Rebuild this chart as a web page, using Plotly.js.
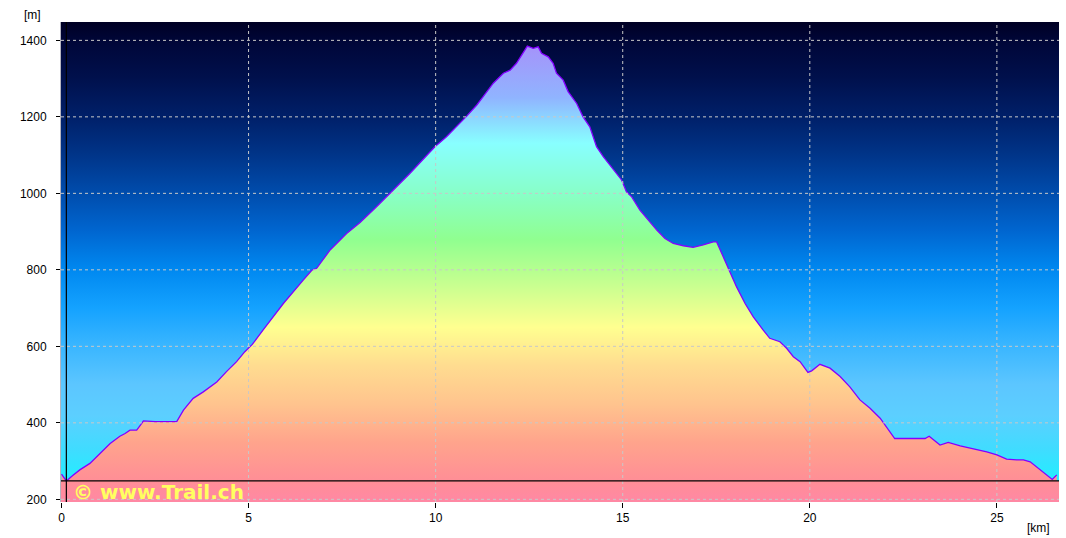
<!DOCTYPE html>
<html>
<head>
<meta charset="utf-8">
<script src="https://cdn.plot.ly/plotly-3.0.1.min.js"></script>
<style>html,body{margin:0;padding:0;background:#fff;}#chart{width:1066px;height:538px;}</style>
</head>
<body>
<div id="chart"></div>
<script>
// Distance along the trail [km]
const distanceKm = [0.00,0.13,0.30,0.49,0.76,1.03,1.30,1.56,1.70,1.83,2.01,2.12,2.19,2.50,3.08,3.26,3.52,3.79,4.15,4.41,4.68,4.90,5.10,5.39,5.93,6.46,6.69,6.82,7.18,7.62,7.98,8.42,8.78,9.31,9.98,10.29,10.83,11.10,11.27,11.54,11.81,11.99,12.16,12.34,12.45,12.61,12.74,12.83,13.01,13.14,13.23,13.41,13.54,13.77,13.94,14.12,14.30,14.48,14.66,14.97,15.10,15.24,15.46,15.68,15.91,16.13,16.35,16.62,16.88,17.15,17.42,17.51,17.69,17.86,18.04,18.27,18.49,18.75,18.93,19.20,19.38,19.56,19.74,19.95,20.05,20.27,20.54,20.81,21.07,21.34,21.61,21.88,22.00,22.27,23.08,23.19,23.48,23.70,24.02,24.37,24.73,25.00,25.26,25.53,25.71,25.89,26.16,26.48,26.60];
// Elevation [m]
const elevationM = [266,248,262,277,294,320,346,365,372,381,381,395,405,403,403,433,464,481,507,534,560,586,605,643,712,773,799,804,852,895,924,965,1000,1052,1122,1148,1202,1231,1253,1288,1314,1322,1340,1366,1385,1379,1383,1366,1357,1340,1314,1296,1266,1235,1200,1174,1122,1096,1074,1035,1004,991,956,930,904,882,869,863,859,865,873,873,834,795,756,712,677,643,621,612,595,573,560,532,536,553,543,521,494,460,438,412,395,359,359,365,342,349,340,333,324,316,305,303,303,298,277,252,264];

const xTicks = [0,5,10,15,20,25];
const yTicks = [200,400,600,800,1000,1200,1400];
const xRange = [-0.013, 26.66];
const yRange = [193, 1448];
const baseLineM = 248;      // black reference line
const startMarkerKm = 0.13; // black vertical marker
const watermark = "© www.Trail.ch";

const skyScale = [
  [0.000,'#18f4ff'],[0.045,'#22eeff'],[0.110,'#40dcff'],[0.180,'#5ccfff'],
  [0.245,'#5cc6ff'],[0.325,'#3ab6ff'],[0.405,'#14a2ff'],[0.485,'#0088f0'],
  [0.565,'#0066d0'],[0.645,'#004cac'],[0.725,'#003488'],[0.805,'#001f68'],
  [0.885,'#00104c'],[0.960,'#000638'],[1.000,'#000024']
];
const terrainScale = [
  [0.000,'#ff88a4'],[0.045,'#ff8e96'],[0.125,'#ffa48c'],[0.205,'#ffc48e'],
  [0.284,'#ffdc90'],[0.364,'#ffff90'],[0.452,'#c8ff90'],[0.547,'#90ff90'],
  [0.643,'#88ffc8'],[0.747,'#88ffff'],[0.842,'#90b4ff'],[0.946,'#a494fa'],[1.000,'#b080f0']
];

const traces = [
  { // sky background filling the plot area
    x:[xRange[0],xRange[1],xRange[1],xRange[0],xRange[0]],
    y:[yRange[0],yRange[0],yRange[1],yRange[1],yRange[0]],
    type:'scatter', mode:'lines', fill:'toself', line:{width:0}, hoverinfo:'skip',
    fillgradient:{type:'vertical', colorscale:skyScale, start:yRange[0], stop:yRange[1]},
    showlegend:false
  },
  { // ground band below the reference line, full width
    x:[xRange[0],xRange[1],xRange[1],xRange[0],xRange[0]],
    y:[yRange[0],yRange[0],baseLineM,baseLineM,yRange[0]],
    type:'scatter', mode:'lines', fill:'toself', line:{width:0}, hoverinfo:'skip',
    fillgradient:{type:'vertical', colorscale:terrainScale, start:yRange[0], stop:yRange[1]},
    showlegend:false
  },
  { // elevation profile
    x:distanceKm, y:elevationM, type:'scatter', mode:'lines', fill:'tozeroy',
    line:{color:'#8400ff', width:1.3},
    fillgradient:{type:'vertical', colorscale:terrainScale, start:yRange[0], stop:yRange[1]},
    showlegend:false
  }
];

const shapes = [];
xTicks.filter(v=>v>0).forEach(v=>shapes.push({type:'line',xref:'x',yref:'paper',x0:v,x1:v,y0:0,y1:1,layer:'above',line:{color:'#c8c8c8',width:1,dash:'3px,3px'}}));
yTicks.forEach(v=>shapes.push({type:'line',xref:'paper',yref:'y',x0:0,x1:1,y0:v,y1:v,layer:'above',line:{color:'#c8c8c8',width:1,dash:'3px,3px'}}));
shapes.push({type:'line',xref:'paper',yref:'y',x0:0,x1:1,y0:baseLineM,y1:baseLineM,layer:'above',line:{color:'#000',width:1.2}});
shapes.push({type:'line',xref:'x',yref:'paper',x0:startMarkerKm,x1:startMarkerKm,y0:0,y1:1,layer:'above',line:{color:'#000',width:1.2}});

const layout = {
  width:1066, height:538,
  margin:{l:61, r:7, t:22, b:36, pad:0},
  paper_bgcolor:'#ffffff', plot_bgcolor:'#000030',
  font:{family:'"Liberation Sans", Arial, sans-serif', size:12, color:'#000'},
  xaxis:{range:xRange, tickvals:xTicks, ticktext:xTicks.map(String), showgrid:false, zeroline:false,
         ticks:'outside', ticklen:5, tickcolor:'#000', showline:false, fixedrange:true},
  yaxis:{range:yRange, tickvals:yTicks, ticktext:yTicks.map(String), showgrid:false, zeroline:false,
         ticks:'outside', ticklen:4, tickcolor:'#000', showline:true, linecolor:'#b4b4c0', linewidth:1,
         ticklabelstandoff:7, fixedrange:true},
  shapes:shapes,
  annotations:[
    {text:'[m]', xref:'paper', yref:'paper', x:-0.029, y:1.015, xanchor:'center', yanchor:'middle', showarrow:false, font:{size:12}},
    {text:'[km]', xref:'paper', yref:'paper', x:0.979, y:-0.054, xanchor:'center', yanchor:'middle', showarrow:false, font:{size:12}},
    {text:'<b>'+watermark+'</b>', xref:'paper', yref:'paper', x:0.010, y:0.02, xanchor:'left', yanchor:'middle', showarrow:false,
     font:{family:'"DejaVu Sans", Verdana, sans-serif', size:20, color:'#ffff60'}}
  ],
  showlegend:false
};

Plotly.newPlot('chart', traces, layout, {staticPlot:true, displayModeBar:false});
</script>
</body>
</html>
